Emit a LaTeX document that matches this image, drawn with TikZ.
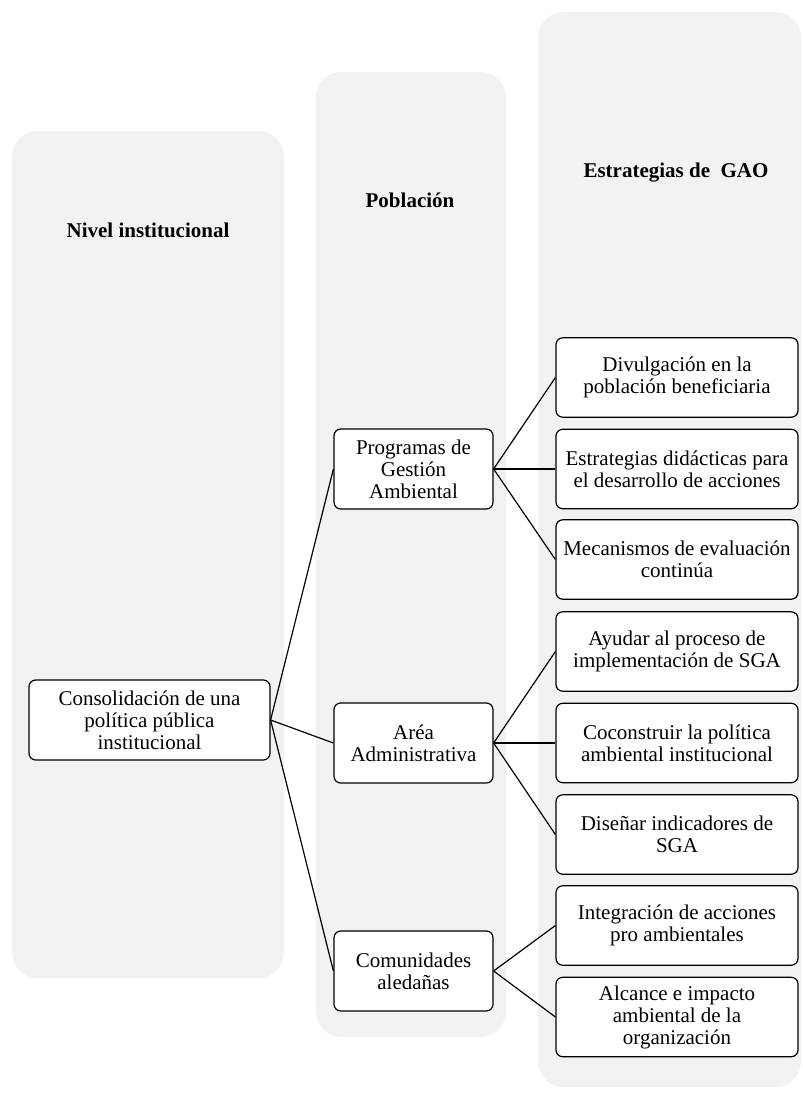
\documentclass[tikz,border=0pt]{standalone}
\usepackage{fontspec}
\setmainfont{Liberation Serif}
\usetikzlibrary{positioning}
\definecolor{panelgray}{HTML}{F2F2F2}

\begin{document}
\begin{tikzpicture}[x=0.75pt,y=-0.75pt]
\tikzstyle{panel}=[fill=panelgray, rounded corners=19pt]
\tikzstyle{box}=[draw=black, fill=white, line width=0.9pt, rounded corners=5pt, align=center, inner sep=2pt, font=\fontsize{15.75}{16.5}\selectfont]
\tikzstyle{wide}=[box, minimum width=181.5pt, minimum height=59.5pt]
\tikzstyle{mid}=[box, minimum width=119.25pt, minimum height=60pt]
\tikzstyle{head}=[font=\fontsize{15.75}{16.5}\selectfont\bfseries]
\tikzstyle{link}=[black, line width=0.9pt]
\useasboundingbox (0,0) rectangle (803,1096);
% columns
\fill[panel] (12,131) rectangle (284,978);
\fill[panel] (316,72) rectangle (506,1037);
\fill[panel] (538,12) rectangle (801,1087);
\node[head] (hnivel) at (148,230) {Nivel institucional};
\node[head] (hpob) at (410,200) {Población};
\node[head] (hgao) at (676,173) {Estrategias de\ \ GAO};
% nodes
\node[wide, minimum width=180.75pt, minimum height=60pt] (root) at (149.5,720) {Consolidación de una\\política pública\\institucional};
\node[mid] (prog) at (413.5,469) {Programas de\\Gestión\\Ambiental};
\node[mid] (area) at (413.5,743) {Aréa\\Administrativa};
\node[mid] (com) at (413.5,971) {Comunidades\\aledañas};
\node[wide] (e1) at (677,377.5) {Divulgación en la\\población beneficiaria};
\node[wide] (e2) at (677,469) {Estrategias didácticas para\\el desarrollo de acciones};
\node[wide] (e3) at (677,559.5) {Mecanismos de evaluación\\continúa};
\node[wide] (e4) at (677,651.5) {Ayudar al proceso de\\implementación de SGA};
\node[wide] (e5) at (677,743) {Coconstruir la política\\ambiental institucional};
\node[wide] (e6) at (677,834.5) {Diseñar indicadores de\\SGA};
\node[wide] (e7) at (677,925.5) {Integración de acciones\\pro ambientales};
\node[wide] (e8) at (677,1017) {Alcance e impacto\\ambiental de la\\organización};
% links
\foreach \m in {prog,area,com}
  \draw[link] (root.east) -- (\m.west);
\foreach \e in {e1,e2,e3}
  \draw[link] (prog.east) -- (\e.west);
\foreach \e in {e4,e5,e6}
  \draw[link] (area.east) -- (\e.west);
\foreach \e in {e7,e8}
  \draw[link] (com.east) -- (\e.west);
\end{tikzpicture}
\end{document}
